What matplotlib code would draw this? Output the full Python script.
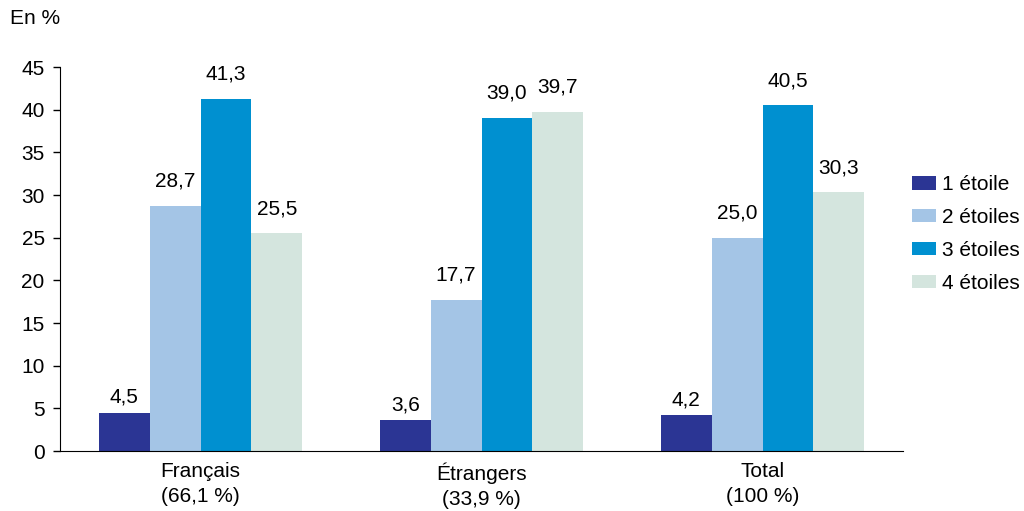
import numpy as np
import matplotlib.pyplot as plt
from matplotlib.patches import Patch

groups = ["Français\n(66,1 %)", "Étrangers\n(33,9 %)", "Total\n(100 %)"]
series = ["1 étoile", "2 étoiles", "3 étoiles", "4 étoiles"]
un = [4.5, 3.6, 4.2]
deux = [28.7, 17.7, 25.0]
trois = [41.3, 39.0, 40.5]
quatre = [25.5, 39.7, 30.3]
colors = ["#2b3594", "#a4c5e6", "#0090d0", "#d4e5de"]

plt.rcParams['font.family'] = ['Liberation Sans', 'DejaVu Sans']

fig = plt.figure(figsize=(10.24, 5.11), dpi=100)
ax = fig.add_axes([60 / 1024, 60 / 511, 843 / 1024, 384 / 511])

x = np.arange(len(groups))
w = 0.181
for i, vals in enumerate([un, deux, trois, quatre]):
    pos = x + (i - 1.5) * w
    ax.bar(pos, vals, width=w, color=colors[i], edgecolor="none")
    for px, v in zip(pos, vals):
        # labels sit a bit lower above the small bars
        off = 0.7 if v < 10 else 1.8
        ax.text(px, v + off, f"{v:.1f}".replace(".", ","), ha="center", va="bottom", fontsize=15)

ax.set_xlim(-0.5, 2.5)
ax.set_ylim(0, 45)
ax.set_yticks(range(0, 46, 5))
ax.set_xticks(x)
ax.set_xticklabels(groups, fontsize=15, linespacing=1.4)
ax.tick_params(axis="x", length=0, pad=8)
ax.tick_params(axis="y", length=5, width=1, labelsize=15, pad=6)
ax.spines["top"].set_visible(False)
ax.spines["right"].set_visible(False)

fig.text(10 / 1024, 1 - 18 / 511, "En %", fontsize=15, va="center", ha="left")

handles = [Patch(facecolor=c, edgecolor="none") for c in colors]
fig.legend(handles, series, loc="center left", bbox_to_anchor=(912 / 1024, 1 - 234 / 511),
           frameon=False, fontsize=15, handlelength=1.15, handleheight=0.6,
           labelspacing=0.66, handletextpad=0.3, borderpad=0, borderaxespad=0)

fig.savefig("out.png", dpi=100)
